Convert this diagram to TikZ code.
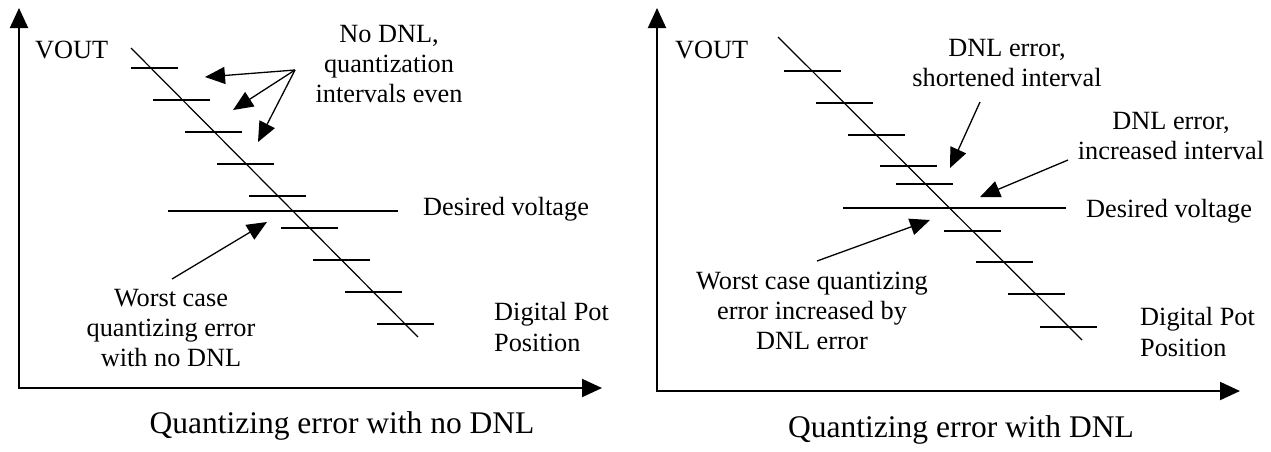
\documentclass[tikz,border=0pt]{standalone}
\usepackage{fontspec}
\setmainfont{Liberation Serif}
\usetikzlibrary{arrows.meta}
\begin{document}
\begin{tikzpicture}[x=1pt,y=-1pt,
  axes/.style={line width=2pt,{Triangle[length=20pt,width=18pt]}-{Triangle[length=20pt,width=18pt]}},
  stepline/.style={line width=1.3pt},
  ramp/.style={line width=1.2pt},
  pointer/.style={line width=1.3pt,-{Triangle[length=20pt,width=17pt]}},
  lbl/.style={font=\fontsize{26.3}{29.8}\selectfont,inner sep=0pt,align=center},
  lbll/.style={font=\fontsize{26.3}{30.5}\selectfont,inner sep=0pt,align=left},
  captext/.style={font=\fontsize{31.5}{34}\selectfont,inner sep=0pt}]
\useasboundingbox (0,0) rectangle (1271,451);

% ---------------- left panel: no DNL ----------------
\coordinate (L-y) at (19,8);
\coordinate (L-o) at (19,388);
\coordinate (L-x) at (602,388);
\draw[axes] (L-y) -- (L-o) -- (L-x);

\coordinate (L-r1) at (131,48);
\coordinate (L-r2) at (418,337);
\draw[ramp] (L-r1) -- (L-r2);

\draw[stepline] (131,68) -- (178,68);
\foreach \i in {1,...,8}
  \draw[stepline] ({121+32*\i},{68+32*\i}) -- ({178+32*\i},{68+32*\i});
\draw[stepline] (168,211) -- (398,211);

% multi-line labels are anchored at the baseline of their last line
\node[lbl,anchor=base west] (L-vout) at (35,58) {VOUT};
\node[lbl,anchor=base] (L-even) at (389,102) {No DNL,\\quantization\\intervals even};
\node[lbl,anchor=base west] (L-des) at (423,215) {Desired voltage};
\node[lbl,anchor=base] (L-worst) at (171,366) {Worst case\\quantizing error\\with no DNL};
\node[lbll,anchor=base west] (L-pos) at (494,351) {Digital Pot\\Position};
\node[captext,anchor=base] (L-cap) at (342,433) {Quantizing error with no DNL};

\coordinate (L-from) at (295,70);
\coordinate (L-t1) at (205,77);
\coordinate (L-t2) at (233,110);
\coordinate (L-t3) at (258,142);
\draw[pointer] (L-from) -- (L-t1);
\draw[pointer] (L-from) -- (L-t2);
\draw[pointer] (L-from) -- (L-t3);
\coordinate (L-wfrom) at (172,279);
\coordinate (L-wto) at (267,222);
\draw[pointer] (L-wfrom) -- (L-wto);

% ---------------- right panel: with DNL ----------------
\coordinate (R-y) at (657,8);
\coordinate (R-o) at (657,391);
\coordinate (R-x) at (1240,391);
\draw[axes] (R-y) -- (R-o) -- (R-x);

\coordinate (R-r1) at (778,37);
\coordinate (R-r2) at (1082,340);
\draw[ramp] (R-r1) -- (R-r2);

\foreach \x/\y in {784/71,816/103,848/135,880/166,896/184,944/231,976/262,1008/294,1040/327}
  \draw[stepline] (\x,\y) -- ({\x+57},\y);
\draw[stepline] (843,208) -- (1066,208);

\node[lbl,anchor=base west] (R-vout) at (675,58) {VOUT};
\node[lbl,anchor=base] (R-short) at (1007,86) {DNL error,\\shortened interval};
\node[lbl,anchor=base] (R-inc) at (1171,159) {DNL error,\\increased interval};
\node[lbl,anchor=base west] (R-des) at (1086,217) {Desired voltage};
\node[lbl,anchor=base] (R-worst) at (812,349) {Worst case quantizing\\error increased by\\DNL error};
\node[lbll,anchor=base west] (R-pos) at (1140,356) {Digital Pot\\Position};
\node[captext,anchor=base] (R-cap) at (961,437) {Quantizing error with DNL};

\coordinate (R-sfrom) at (980,102);
\coordinate (R-sto) at (950,168);
\draw[pointer] (R-sfrom) -- (R-sto);
\coordinate (R-ifrom) at (1068,160);
\coordinate (R-ito) at (980,197);
\draw[pointer] (R-ifrom) -- (R-ito);
\coordinate (R-wfrom) at (817,261);
\coordinate (R-wto) at (930,220);
\draw[pointer] (R-wfrom) -- (R-wto);
\end{tikzpicture}
\end{document}
